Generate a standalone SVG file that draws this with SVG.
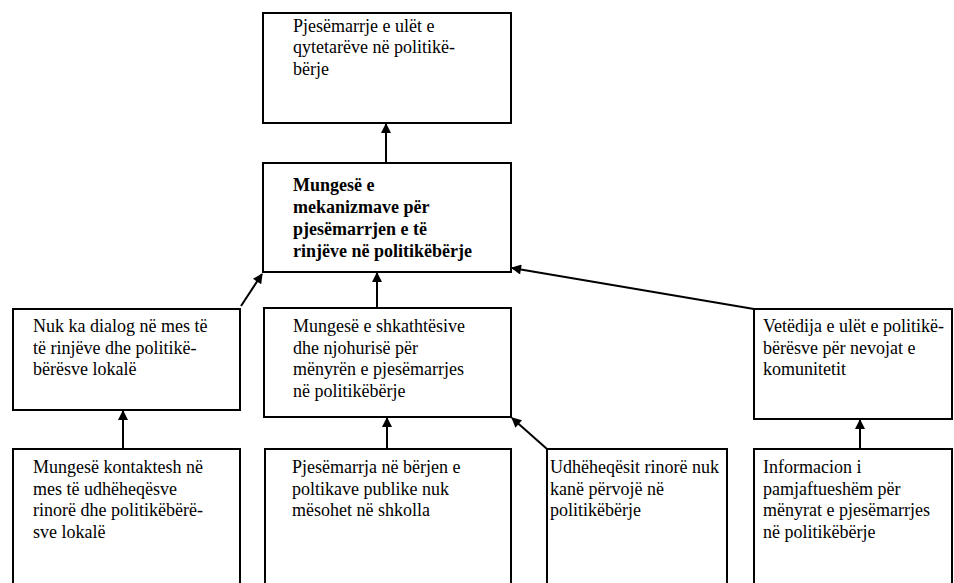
<svg xmlns="http://www.w3.org/2000/svg" width="954" height="583" viewBox="0 0 954 583">
  <style>
    .box { fill: #ffffff; stroke: #000000; stroke-width: 2; }
    .t { font-family: 'Liberation Serif', 'Times New Roman', serif; font-size: 18px; fill: #000000; }
    .b { font-weight: bold; }
    .edge { stroke: #000000; stroke-width: 2; fill: none; marker-end: url(#arrow); }
  </style>
  <defs>
    <marker id="arrow" viewBox="0 0 10 10" refX="9" refY="5" markerWidth="5.5" markerHeight="5" orient="auto" markerUnits="strokeWidth">
      <path d="M0,0 L10,5 L0,10 z" fill="#000000"/>
    </marker>
  </defs>
  <rect width="954" height="583" fill="#ffffff"/>

  <g id="connectors">
    <line class="edge" x1="386" y1="163" x2="386" y2="124"/>
    <line class="edge" x1="241" y1="306" x2="262" y2="274"/>
    <line class="edge" x1="377" y1="308" x2="377" y2="273"/>
    <line class="edge" x1="754" y1="309" x2="512" y2="268"/>
    <line class="edge" x1="123" y1="449" x2="123" y2="411"/>
    <line class="edge" x1="387" y1="449" x2="387" y2="418"/>
    <line class="edge" x1="547" y1="449" x2="512" y2="418"/>
    <line class="edge" x1="860" y1="449" x2="860" y2="420"/>
  </g>

  <g id="n-top">
    <rect class="box" x="263" y="13" width="248" height="110"/>
    <text class="t" x="293" y="31.5">Pjesëmarrje e ulët e</text>
    <text class="t" x="293" y="53">qytetarëve në politikë-</text>
    <text class="t" x="293" y="74.5">bërje</text>
  </g>

  <g id="n-core">
    <rect class="box" x="263" y="163" width="248" height="109"/>
    <text class="t b" x="293" y="191">Mungesë e</text>
    <text class="t b" x="293" y="213">mekanizmave për</text>
    <text class="t b" x="293" y="235">pjesëmarrjen e të</text>
    <text class="t b" x="293" y="257">rinjëve në politikëbërje</text>
  </g>

  <g id="n-dialog">
    <rect class="box" x="13" y="309" width="227" height="101"/>
    <text class="t" x="33" y="332">Nuk ka dialog në mes të</text>
    <text class="t" x="33" y="353.5">të rinjëve dhe politikë-</text>
    <text class="t" x="33" y="375">bërësve lokalë</text>
  </g>

  <g id="n-skills">
    <rect class="box" x="264" y="308" width="247" height="109"/>
    <text class="t" x="293" y="332">Mungesë e shkathtësive</text>
    <text class="t" x="293" y="353.5">dhe njohurisë për</text>
    <text class="t" x="293" y="375">mënyrën e pjesëmarrjes</text>
    <text class="t" x="293" y="396.5">në politikëbërje</text>
  </g>

  <g id="n-awareness">
    <rect class="box" x="754" y="309" width="198" height="110"/>
    <text class="t" x="763" y="332">Vetëdija e ulët e politikë-</text>
    <text class="t" x="763" y="353.5">bërësve për nevojat e</text>
    <text class="t" x="763" y="375">komunitetit</text>
  </g>

  <g id="n-contacts">
    <path class="box" d="M13,590 V449 H240 V590"/>
    <text class="t" x="33" y="473">Mungesë kontaktesh në</text>
    <text class="t" x="33" y="494.5">mes të udhëheqësve</text>
    <text class="t" x="33" y="516">rinorë dhe politikëbërë-</text>
    <text class="t" x="33" y="537.5">sve lokalë</text>
  </g>

  <g id="n-school">
    <path class="box" d="M265,590 V449 H511 V590"/>
    <text class="t" x="292" y="473">Pjesëmarrja në bërjen e</text>
    <text class="t" x="292" y="494.5">poltikave publike nuk</text>
    <text class="t" x="292" y="516">mësohet në shkolla</text>
  </g>

  <g id="n-leaders">
    <path class="box" d="M547,590 V449 H727 V590"/>
    <text class="t" x="550" y="473">Udhëheqësit rinorë nuk</text>
    <text class="t" x="550" y="494.5">kanë përvojë në</text>
    <text class="t" x="550" y="516">politikëbërje</text>
  </g>

  <g id="n-info">
    <path class="box" d="M754,590 V449 H952 V590"/>
    <text class="t" x="763" y="473">Informacion i</text>
    <text class="t" x="763" y="494.5">pamjaftueshëm për</text>
    <text class="t" x="763" y="516">mënyrat e pjesëmarrjes</text>
    <text class="t" x="763" y="537.5">në politikëbërje</text>
  </g>
</svg>
